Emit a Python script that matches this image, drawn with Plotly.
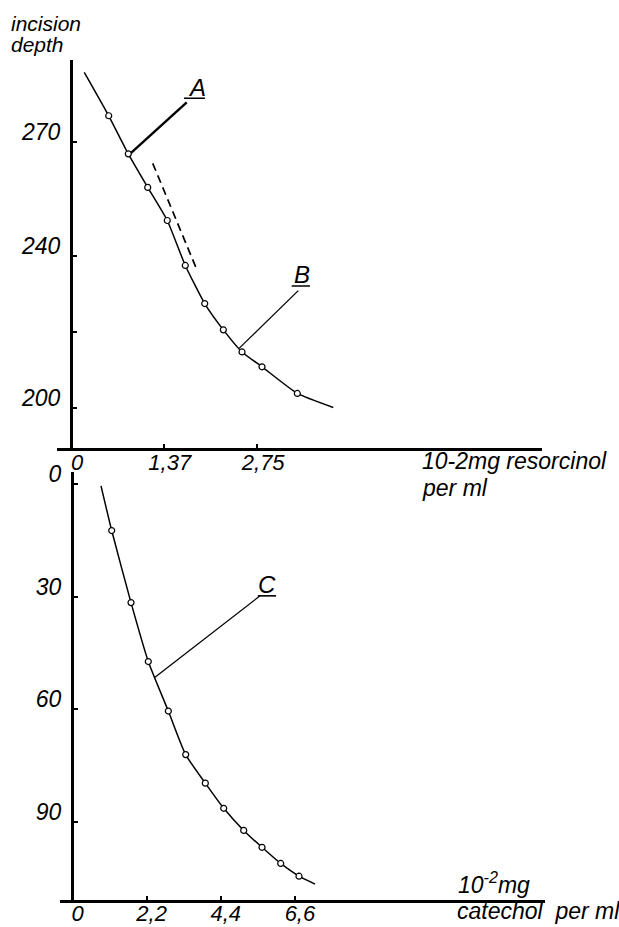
import plotly.graph_objects as go

W, H = 619, 927

# ---------------- data: top panel (resorcinol) ----------------
res_x = [0.557, 0.846, 1.133, 1.422, 1.688, 1.975, 2.250, 2.526, 2.821, 3.343]
res_y = [276.8, 266.8, 258.0, 249.3, 237.5, 227.5, 220.6, 214.8, 210.9, 203.9]
res_curve_x = [0.196, 0.557, 0.846, 1.133, 1.422, 1.688, 1.975, 2.250, 2.526, 2.821, 3.343, 3.874]
res_curve_y = [288.2, 276.8, 266.8, 258.0, 249.3, 237.5, 227.5, 220.6, 214.8, 210.9, 203.9, 200.2]
tangent_x = [1.207, 1.861]
tangent_y = [264.3, 236.3]
res_tickvals = [0, 1.37, 2.75]
res_ticktext = ["0", "1,37", "2,75"]
depth_tickvals = [200, 220, 240, 270]
depth_ticktext = ["200", "", "240", "270"]

# labels A, B (label position, underline, leader)
A_label = (1.857, 284.1)
A_under_x, A_under_y = [1.669, 1.979], [281.4, 281.4]
A_lead_x, A_lead_y = [1.709, 0.871], [280.3, 266.8]
B_label = (3.408, 235.0)
B_under_x, B_under_y = [3.26, 3.53], [232.1, 232.1]
B_lead_x, B_lead_y = [3.357, 2.486], [230.9, 215.8]

# ---------------- data: bottom panel (catechol) ----------------
cat_x = [1.163, 1.736, 2.249, 2.843, 3.359, 3.941, 4.487, 5.080, 5.623, 6.178, 6.721]
cat_y = [12.4, 31.6, 47.3, 60.5, 72.1, 79.7, 86.4, 92.3, 96.8, 101.1, 104.5]
cat_curve_x = [0.846, 1.163, 1.736, 2.249, 2.843, 3.359, 3.941, 4.487, 5.080, 5.623, 6.178, 6.721, 7.196]
cat_curve_y = [0.5, 12.4, 31.6, 47.3, 60.5, 72.1, 79.7, 86.4, 92.3, 96.8, 101.1, 104.5, 106.6]
cat_tickvals = [0, 2.2, 4.4, 6.6]
cat_ticktext = ["0", "2,2", "4,4", "6,6"]
cat_depth_tickvals = [0, 30, 60, 90]
cat_depth_ticktext = ["0", "30", "60", "90"]

C_label = (5.76, 26.9)
C_under_x, C_under_y = [5.50, 6.04], [29.8, 29.8]
C_lead_x, C_lead_y = [5.564, 2.448], [29.8, 51.5]

FONT = "Liberation Sans, Arial"
ink = "black"

fig = go.Figure()

def line(x, y, xa, ya, width=1.4, dash=None):
    fig.add_trace(go.Scatter(x=x, y=y, xaxis=xa, yaxis=ya, mode="lines",
                             line=dict(color=ink, width=width, dash=dash),
                             hoverinfo="skip", showlegend=False))

# top panel
fig.add_trace(go.Scatter(x=res_curve_x, y=res_curve_y, xaxis="x", yaxis="y", mode="lines",
                         line=dict(color=ink, width=1.5, shape="spline", smoothing=0.5),
                         showlegend=False, hoverinfo="skip"))
line(tangent_x, tangent_y, "x", "y", width=1.7, dash="8px,5px")
line(A_lead_x, A_lead_y, "x", "y", width=2.4)
line(A_under_x, A_under_y, "x", "y", width=1.6)
line(B_lead_x, B_lead_y, "x", "y", width=1.3)
line(B_under_x, B_under_y, "x", "y", width=1.6)
fig.add_trace(go.Scatter(x=res_x, y=res_y, xaxis="x", yaxis="y", mode="markers",
                         marker=dict(symbol="circle", size=6, color="white",
                                     line=dict(color=ink, width=1.2)),
                         showlegend=False))

# bottom panel
fig.add_trace(go.Scatter(x=cat_curve_x, y=cat_curve_y, xaxis="x2", yaxis="y2", mode="lines",
                         line=dict(color=ink, width=1.5, shape="spline", smoothing=0.6),
                         showlegend=False, hoverinfo="skip"))
line(C_lead_x, C_lead_y, "x2", "y2", width=1.3)
line(C_under_x, C_under_y, "x2", "y2", width=1.6)
fig.add_trace(go.Scatter(x=cat_x, y=cat_y, xaxis="x2", yaxis="y2", mode="markers",
                         marker=dict(symbol="circle", size=6, color="white",
                                     line=dict(color=ink, width=1.2)),
                         showlegend=False))

tickfont = dict(family=FONT, size=23, color=ink, style="italic")
xtickfont = dict(family=FONT, size=22, color=ink, style="italic")

def px_x(p):
    return p / W

def px_y(p):
    return 1 - p / H

axis_common = dict(showgrid=False, zeroline=False, showline=True, linecolor=ink,
                   linewidth=3, ticks="inside", ticklen=4, tickwidth=1.5, tickcolor=ink,
                   automargin=False)

fig.update_layout(
    template="none",
    width=W, height=H,
    margin=dict(l=0, r=0, t=0, b=0, pad=0),
    paper_bgcolor="white", plot_bgcolor="white",
    showlegend=False,
    xaxis=dict(domain=[px_x(57), px_x(542)], range=[-0.207, 6.957], anchor="y",
               tickvals=res_tickvals, ticktext=res_ticktext, tickfont=xtickfont,
               ticklabelshift=6, ticklabelstandoff=-7, **axis_common),
    yaxis=dict(domain=[px_y(447.7), px_y(60)], range=[189.66, 291.44], anchor="free",
               position=px_x(71),
               tickvals=depth_tickvals, ticktext=depth_ticktext, tickfont=tickfont,
               ticklabelshift=-10, ticklabelstandoff=5, **axis_common),
    xaxis2=dict(domain=[px_x(60), px_x(545)], range=[-0.371, 14.02], anchor="y2",
                tickvals=cat_tickvals, ticktext=cat_ticktext, tickfont=xtickfont,
                ticklabelshift=5, ticklabelstandoff=-8, **axis_common),
    yaxis2=dict(domain=[px_y(900), px_y(471.7)], range=[110.84, -3.28], anchor="free",
                position=px_x(72),
                tickvals=cat_depth_tickvals, ticktext=cat_depth_ticktext, tickfont=tickfont,
                ticklabelshift=10, ticklabelstandoff=5, **axis_common),
)

labfont = dict(family=FONT, size=24, color=ink, style="italic")
txtfont = dict(family=FONT, size=21, color=ink, style="italic")
axfont = dict(family=FONT, size=23, color=ink, style="italic")

annotations = [
    dict(text="A", x=A_label[0], y=A_label[1], xref="x", yref="y", showarrow=False,
         font=labfont, xanchor="center", yanchor="middle"),
    dict(text="B", x=B_label[0], y=B_label[1], xref="x", yref="y", showarrow=False,
         font=labfont, xanchor="center", yanchor="middle"),
    dict(text="C", x=C_label[0], y=C_label[1], xref="x2", yref="y2", showarrow=False,
         font=labfont, xanchor="center", yanchor="middle"),
    dict(text="incision", x=px_x(9), y=px_y(23), xref="paper", yref="paper", showarrow=False,
         font=txtfont, xanchor="left", yanchor="middle"),
    dict(text="depth", x=px_x(9), y=px_y(45), xref="paper", yref="paper", showarrow=False,
         font=txtfont, xanchor="left", yanchor="middle"),
    dict(text="10-2mg resorcinol", x=px_x(420), y=px_y(461), xref="paper", yref="paper",
         showarrow=False, font=axfont, xanchor="left", yanchor="middle"),
    dict(text="per ml", x=px_x(420), y=px_y(488), xref="paper", yref="paper",
         showarrow=False, font=axfont, xanchor="left", yanchor="middle"),
    dict(text="10<sup>-2</sup>mg", x=px_x(456), y=px_y(883), xref="paper", yref="paper",
         showarrow=False, font=axfont, xanchor="left", yanchor="middle"),
    dict(text="catechol  per ml", x=px_x(455), y=px_y(911), xref="paper", yref="paper",
         showarrow=False, font=axfont, xanchor="left", yanchor="middle"),
]
fig.update_layout(annotations=annotations)

fig.write_html("out.html")
